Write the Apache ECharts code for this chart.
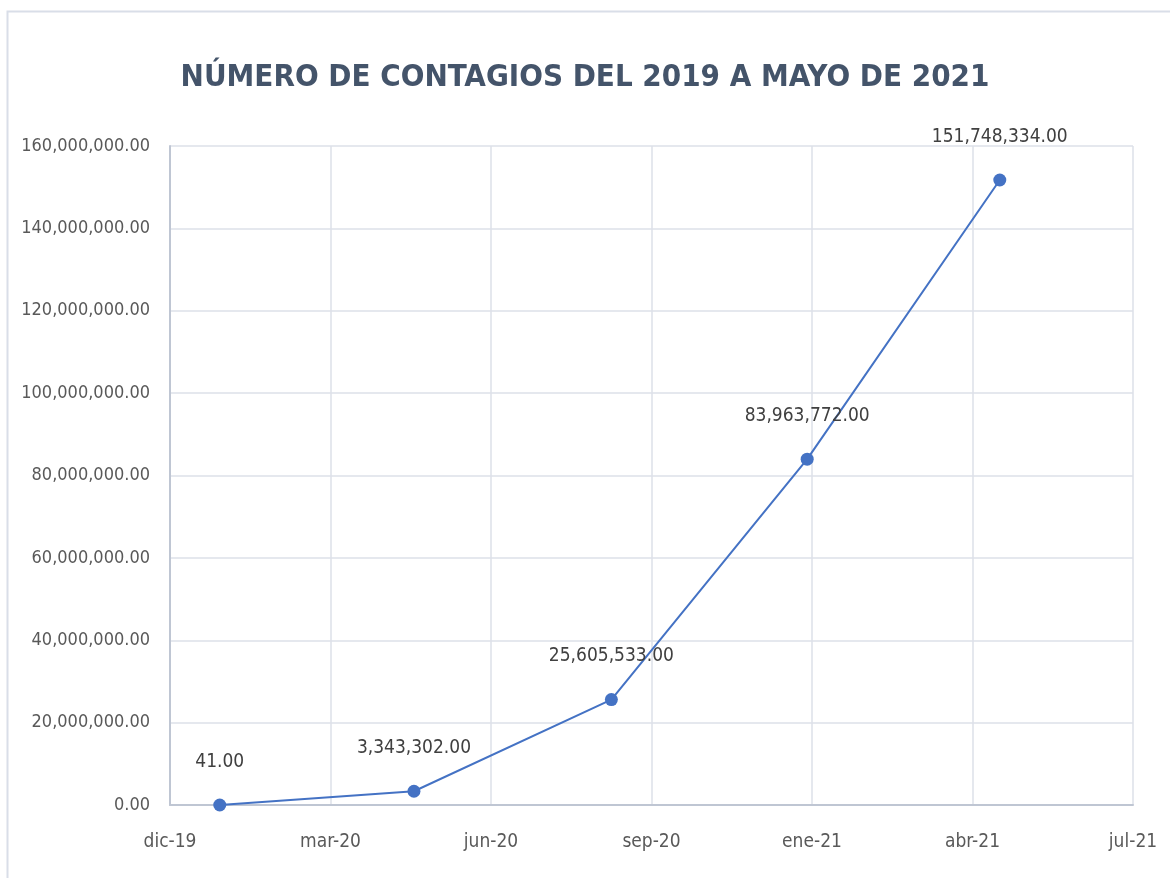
<!DOCTYPE html>
<html>
<head>
<meta charset="utf-8">
<script src="https://cdn.jsdelivr.net/npm/echarts@6/dist/echarts.min.js"></script>
<style>
    html, body { margin: 0; padding: 0; background: #fff; }
    #chart { width: 1170px; height: 878px; }
</style>
</head>
<body>
<div id="chart"></div>
<script>
// fechas y contagios
var fechas = ['2020-01-01', '2020-05-01', '2020-09-01', '2021-01-01', '2021-05-01'];
var contagios = [41, 3343302, 25605533, 83963772, 151748334];
var meses = ['ene', 'feb', 'mar', 'abr', 'may', 'jun', 'jul', 'ago', 'sep', 'oct', 'nov', 'dic'];

var base = Date.UTC(2019, 11, 1);
var DIA = 24 * 3600 * 1000;

function dias(f) {
    var p = f.split('-');
    return Math.round((Date.UTC(+p[0], +p[1] - 1, +p[2]) - base) / DIA);
}

function numero(v) {
    var s = Math.round(v).toString().replace(/\B(?=(\d{3})+(?!\d))/g, ',');
    return s + '.00';
}

var datos = [];
for (var i = 0; i < fechas.length; i++) {
    datos.push([dias(fechas[i]), contagios[i]]);
}

var fuente = '"DejaVu Sans Condensed", "Liberation Sans Narrow", sans-serif';

var myChart = echarts.init(document.getElementById('chart'));

var option = {
    backgroundColor: '#ffffff',
    animation: false,
    title: {
        text: 'NÚMERO DE CONTAGIOS DEL 2019 A MAYO DE 2021',
        left: 'center',
        top: 57,
        textStyle: {
            color: '#44546A',
            fontFamily: fuente,
            fontWeight: 'bold',
            fontSize: 31
        }
    },
    graphic: [{
        type: 'rect',
        shape: { x: 7.5, y: 11.5, width: 1175, height: 880 },
        style: { fill: 'none', stroke: '#D9DEE8', lineWidth: 2 },
        silent: true
    }],
    grid: {
        left: 170,
        right: 37,
        top: 146,
        bottom: 73
    },
    xAxis: {
        type: 'value',
        min: 0,
        max: 600,
        interval: 100,
        axisLine: { show: true, lineStyle: { color: '#BFC6D3', width: 2 } },
        axisTick: { show: false },
        splitLine: { show: true, lineStyle: { color: '#DCE0E8', width: 1.5 } },
        axisLabel: {
            margin: 28,
            color: '#595959',
            fontFamily: fuente,
            fontSize: 19,
            formatter: function (v) {
                var d = new Date(base + v * DIA);
                return meses[d.getUTCMonth()] + '-' + String(d.getUTCFullYear()).slice(2);
            }
        }
    },
    yAxis: {
        type: 'value',
        min: 0,
        max: 160000000,
        interval: 20000000,
        axisLine: { show: true, lineStyle: { color: '#BFC6D3', width: 2 } },
        axisTick: { show: false },
        splitLine: { show: true, lineStyle: { color: '#DCE0E8', width: 1.5 } },
        axisLabel: {
            margin: 20,
            color: '#595959',
            fontFamily: fuente,
            fontSize: 18,
            formatter: function (v) { return numero(v); }
        }
    },
    series: [{
        name: 'Contagios',
        type: 'line',
        data: datos,
        symbol: 'circle',
        symbolSize: 13,
        itemStyle: { color: '#4472C4' },
        lineStyle: { color: '#4472C4', width: 2 },
        label: {
            show: true,
            position: 'top',
            distance: 27,
            color: '#404040',
            fontFamily: fuente,
            fontSize: 19,
            formatter: function (p) { return numero(p.value[1]); }
        }
    }]
};

myChart.setOption(option, true);
</script>
</body>
</html>
